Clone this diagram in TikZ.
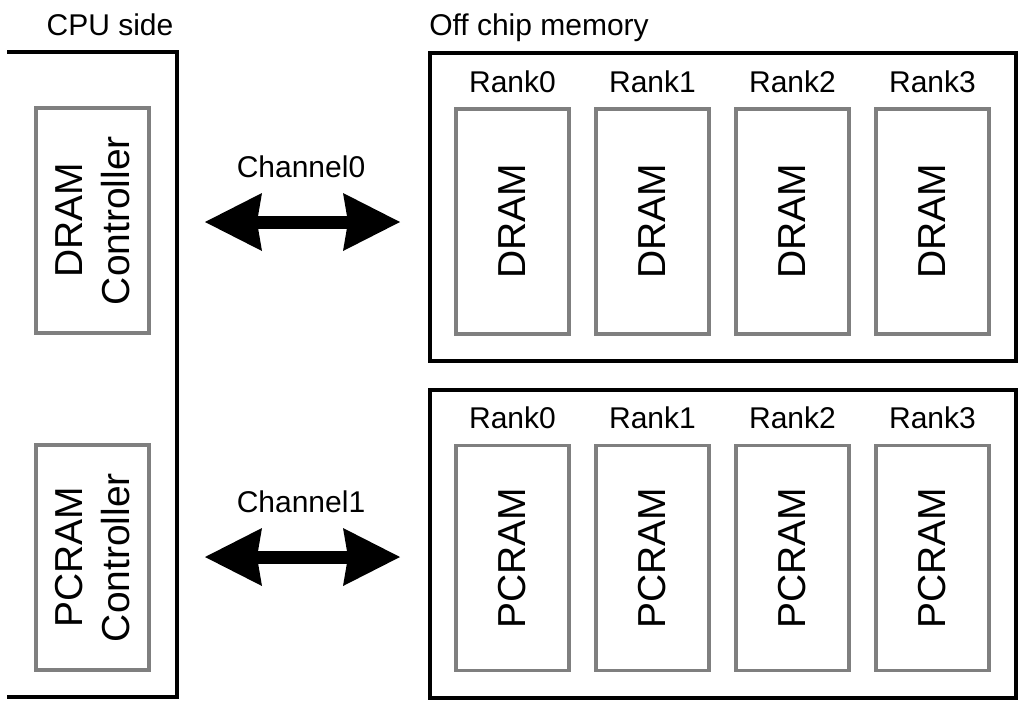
\documentclass[tikz,border=0pt]{standalone}
\usepackage{fontspec}
\setmainfont{Liberation Sans}
\usetikzlibrary{arrows.meta}
\definecolor{boxgray}{HTML}{7F7F7F}
\begin{document}
\begin{tikzpicture}[x=1pt,y=-1pt,
  frame/.style={draw=black,line width=3.5pt},
  unit/.style={draw=boxgray,line width=3.2pt,rotate=90,minimum width=225pt,minimum height=113pt,inner sep=0pt,align=center,font=\fontsize{39}{47}\selectfont},
  lbl/.style={anchor=base,inner sep=0pt,font=\fontsize{30}{36}\selectfont},
  bus/.style={line width=13pt,{Stealth[length=57pt,width=58pt,inset=5pt,line width=0pt]}-{Stealth[length=57pt,width=58pt,inset=5pt,line width=0pt]}}
]
\useasboundingbox (0,0) rectangle (1024,702);
% CPU side
\coordinate (c1) at (7,52);
\coordinate (c2) at (177,52);
\coordinate (c3) at (177,697);
\coordinate (c4) at (7,697);
\draw[frame,line join=miter] (c1) -- (c2) -- (c3) -- (c4);
\node[lbl] (cpulbl) at (110,35) {CPU side};
\node[unit] (dctl) at (92.5,220.5) {DRAM\\Controller};
\node[unit] (pctl) at (92.5,557.5) {PCRAM\\Controller};
% memory
\node[lbl] (memlbl) at (539,35) {Off chip memory};
\node[frame,minimum width=586pt,minimum height=308pt,inner sep=0pt] (mem0) at (723,207) {};
\node[frame,minimum width=586pt,minimum height=308pt,inner sep=0pt] (mem1) at (723,544) {};
\foreach \i/\x in {0/512.5,1/652.5,2/792.5,3/932.5}{
  \node[lbl] (rt\i) at (\x,92) {Rank\i};
  \node[unit] (d\i) at (\x,221.5) {DRAM};
  \node[lbl] (rb\i) at (\x,428) {Rank\i};
  \node[unit] (p\i) at (\x,558) {PCRAM};
}
% channels
\node[lbl] (ch0) at (301,177) {Channel0};
\node[lbl] (ch1) at (301,512) {Channel1};
\coordinate (a0) at (205,222);
\coordinate (b0) at (400,222);
\coordinate (a1) at (205,557);
\coordinate (b1) at (400,557);
\draw[bus] (a0) -- (b0);
\draw[bus] (a1) -- (b1);
\end{tikzpicture}
\end{document}
